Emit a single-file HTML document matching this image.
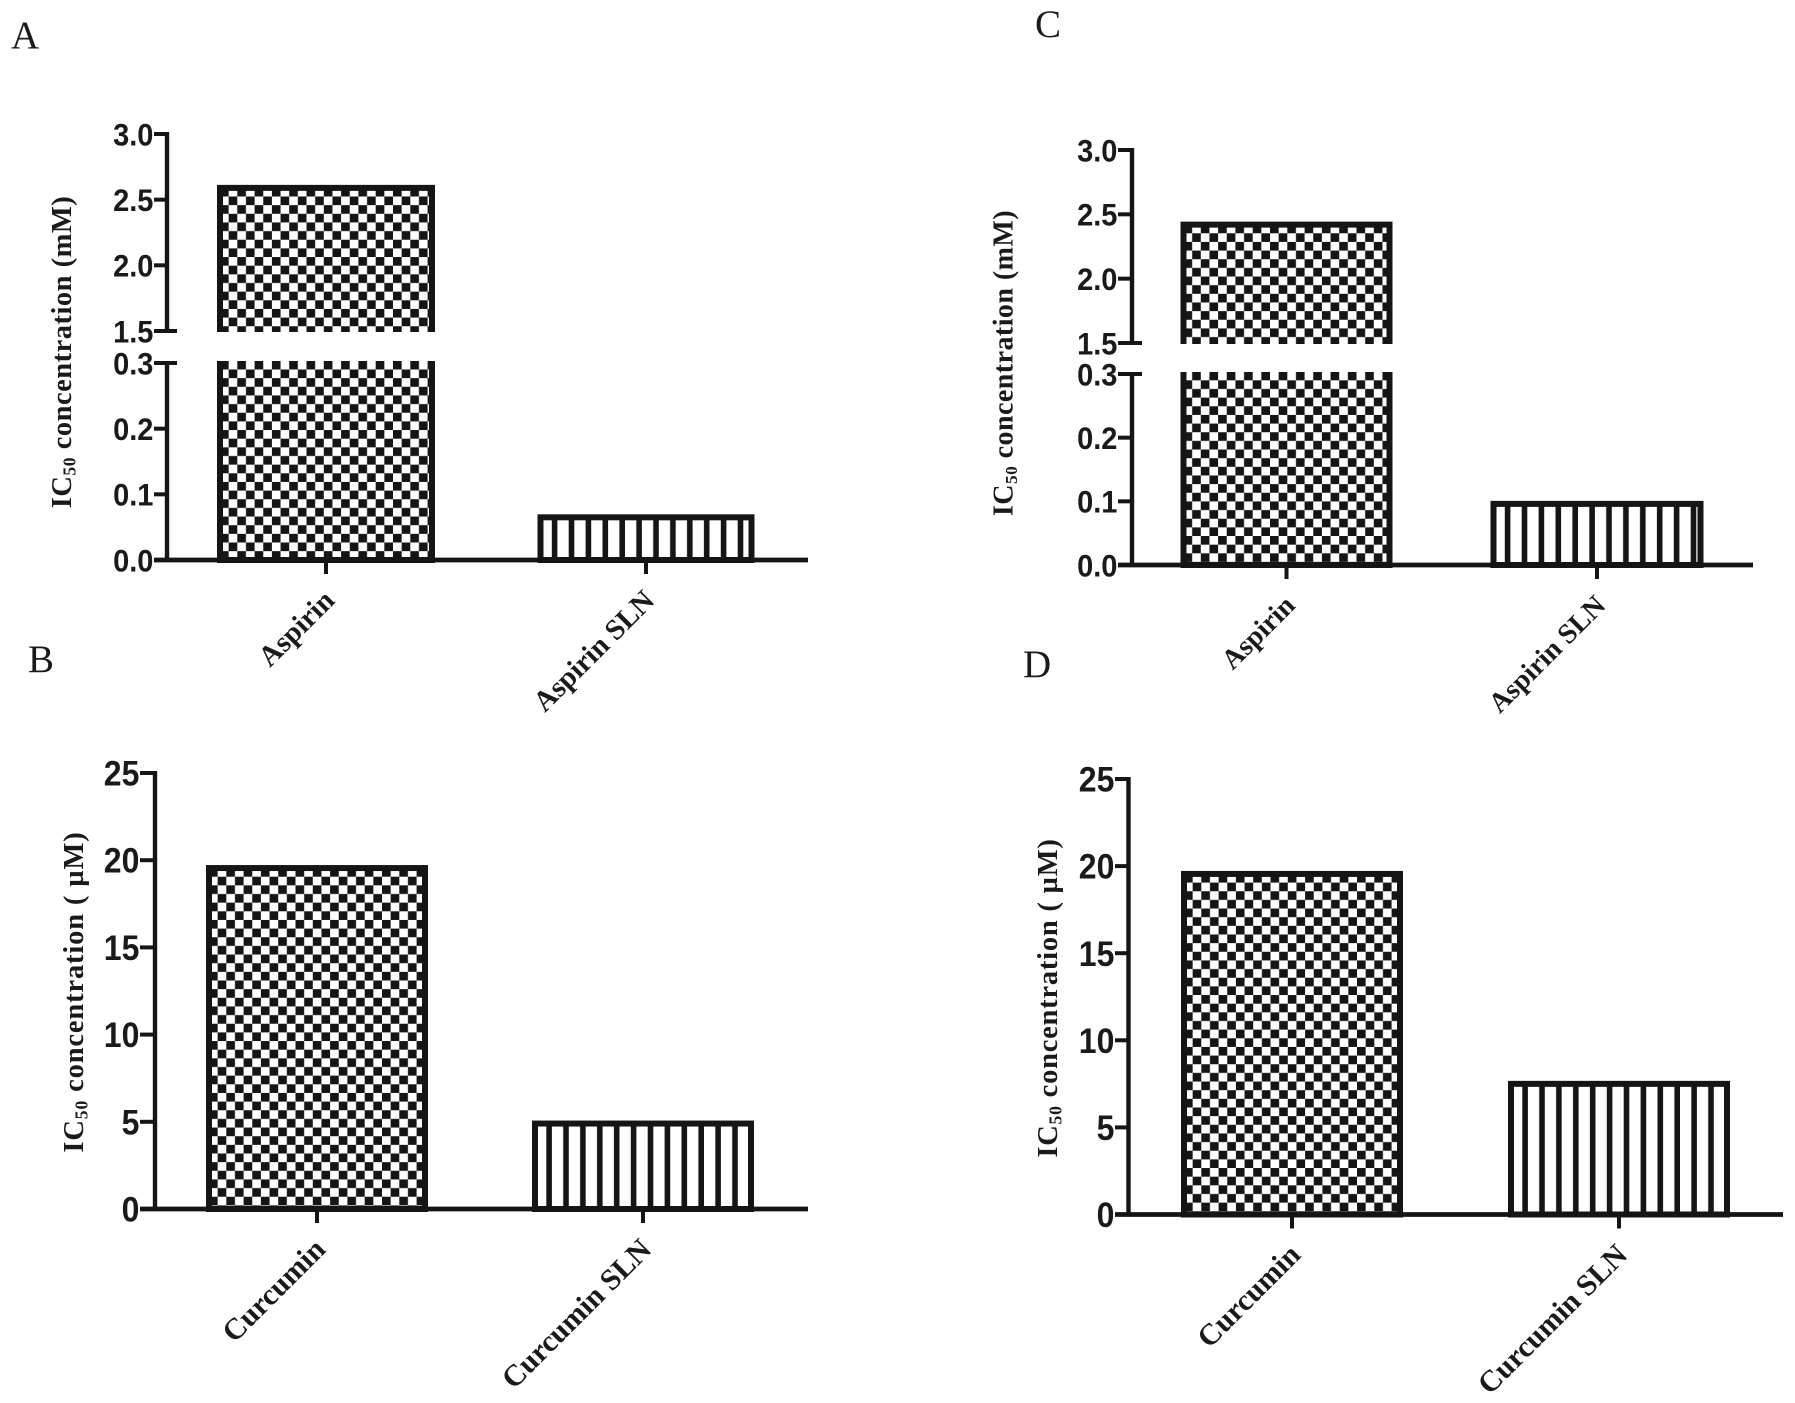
<!DOCTYPE html>
<html lang="en">
<head>
<meta charset="utf-8">
<title>IC50 concentration bar charts</title>
<style>
html,body{margin:0;padding:0;background:#fff;width:1795px;height:1403px;overflow:hidden}
svg{display:block}
.tick{font-family:"Liberation Sans",sans-serif;font-weight:bold;fill:#1a1a1a}
.serif{font-family:"Liberation Serif",serif;fill:#1a1a1a}
.title,.cat{font-weight:bold}
</style>
</head>
<body>
<svg id="figure" width="1795" height="1403" viewBox="0 0 1795 1403" xmlns="http://www.w3.org/2000/svg">
<defs id="defs"></defs>
<rect width="1795" height="1403" fill="#fff"/>
</svg>
<script>
// ---- Data ----
const categoriesA = ['Aspirin', 'Aspirin SLN'];
const valuesA = [2.59, 0.065];
const lowTicksA = [0, 0.1, 0.2, 0.3];
const highTicksA = [1.5, 2.0, 2.5, 3.0];
const lowTickLabelsA = ['0.0', '0.1', '0.2', '0.3'];
const highTickLabelsA = ['1.5', '2.0', '2.5', '3.0'];

const categoriesC = ['Aspirin', 'Aspirin SLN'];
const valuesC = [2.42, 0.096];
const lowTicksC = [0, 0.1, 0.2, 0.3];
const highTicksC = [1.5, 2.0, 2.5, 3.0];
const lowTickLabelsC = ['0.0', '0.1', '0.2', '0.3'];
const highTickLabelsC = ['1.5', '2.0', '2.5', '3.0'];

const categoriesB = ['Curcumin', 'Curcumin SLN'];
const valuesB = [19.55, 4.9];
const ticksB = [0, 5, 10, 15, 20, 25];
const tickLabelsB = ['0', '5', '10', '15', '20', '25'];

const categoriesD = ['Curcumin', 'Curcumin SLN'];
const valuesD = [19.55, 7.5];
const ticksD = [0, 5, 10, 15, 20, 25];
const tickLabelsD = ['0', '5', '10', '15', '20', '25'];

// ---- Panel layout (geometry only) ----
const panels = [
  {id:'a', letter:'A', lx:11, ly:48,
   categories:categoriesA, values:valuesA,
   segments:[{d0:0,d1:0.3,r0:560,r1:363,ticks:lowTicksA,labels:lowTickLabelsA},
             {d0:1.5,d1:3,r0:331,r1:134,ticks:highTicksA,labels:highTickLabelsA}],
   axisX:167, tickLeft:154, axisEnd:808, centers:[326,646], barWidths:[218,217],
   tickFont:29, catFont:29, titleFont:28.5, titleSpacing:0.5, titleX:71, titleY:352, unit:'(mM)'},
  {id:'c', letter:'C', lx:1035, ly:37,
   categories:categoriesC, values:valuesC,
   segments:[{d0:0,d1:0.3,r0:565,r1:374,ticks:lowTicksC,labels:lowTickLabelsC},
             {d0:1.5,d1:3,r0:343,r1:150,ticks:highTicksC,labels:highTickLabelsC}],
   axisX:1132, tickLeft:1118, axisEnd:1753, centers:[1286.5,1597], barWidths:[212,213],
   tickFont:29, catFont:28, titleFont:28, titleSpacing:0.45, titleX:1012.5, titleY:363, unit:'(mM)'},
  {id:'b', letter:'B', lx:28, ly:672,
   categories:categoriesB, values:valuesB,
   segments:[{d0:0,d1:25,r0:1209,r1:773,ticks:ticksB,labels:tickLabelsB}],
   axisX:155, tickLeft:140, axisEnd:808, centers:[317,643], barWidths:[222,222],
   tickFont:32, catFont:30, titleFont:28.5, titleSpacing:0.85, titleX:83, titleY:992, unit:'( \u00B5M)'},
  {id:'d', letter:'D', lx:1023, ly:677,
   categories:categoriesD, values:valuesD,
   segments:[{d0:0,d1:25,r0:1214.5,r1:779,ticks:ticksD,labels:tickLabelsD}],
   axisX:1128.5, tickLeft:1115, axisEnd:1783, centers:[1292,1619], barWidths:[222,222],
   tickFont:32, catFont:30, titleFont:28.5, titleSpacing:0.77, titleX:1057, titleY:998, unit:'( \u00B5M)'}
];

const INK = '#151515';
const SVGNS = 'http://www.w3.org/2000/svg';
const svg = document.getElementById('figure');
const defs = document.getElementById('defs');

function make(tag, attrs, parent) {
  const el = document.createElementNS(SVGNS, tag);
  for (const k in attrs) el.setAttribute(k, attrs[k]);
  if (parent) parent.appendChild(el);
  return el;
}

function yScale(panel, v) {
  const segs = panel.segments;
  let seg = segs[0];
  for (const s of segs) { if (v >= s.d0) seg = s; }
  return seg.r0 + (v - seg.d0) / (seg.d1 - seg.d0) * (seg.r1 - seg.r0);
}

function line(parent, x1, y1, x2, y2, w) {
  return make('line', {x1, y1, x2, y2, stroke: INK, 'stroke-width': w, 'stroke-linecap': 'butt'}, parent);
}

function addChecker(id, x, y) {
  const cell = 8.65;
  const p = make('pattern', {id, patternUnits:'userSpaceOnUse', x, y, width:cell*2, height:cell*2}, defs);
  make('rect', {width:cell*2, height:cell*2, fill:'#fff'}, p);
  make('rect', {width:cell, height:cell, fill:INK}, p);
  make('rect', {x:cell, y:cell, width:cell, height:cell, fill:INK}, p);
}

function addStripes(id, x, y) {
  const period = 16.9, dark = 5.6;
  const p = make('pattern', {id, patternUnits:'userSpaceOnUse', x, y, width:period, height:20}, defs);
  make('rect', {width:period, height:20, fill:'#fff'}, p);
  make('rect', {x:period - dark, width:dark, height:20, fill:INK}, p);
}

function drawBar(panel, g, i) {
  const sw = 6;
  const v = panel.values[i];
  const cx = panel.centers[i];
  const w = panel.barWidths[i];
  const left = cx - w / 2 + sw / 2;
  const right = cx + w / 2 - sw / 2;
  const base = yScale(panel, 0);
  const top = yScale(panel, v);
  const pid = 'fill-' + panel.id + '-' + i;
  if (i === 0) addChecker(pid, left, top); else addStripes(pid, left, top);
  const bar = make('g', {}, g);
  
  
  const broken = panel.segments.length > 1 && v > panel.segments[0].d1;
  if (broken) {
    const lowTop = panel.segments[0].r1 - 2;
    const highBottom = panel.segments[1].r0 + 1;
    make('rect', {x:left, y:lowTop, width:right-left, height:base-lowTop, fill:'url(#'+pid+')'}, bar);
    make('rect', {x:left, y:top, width:right-left, height:highBottom-top, fill:'url(#'+pid+')'}, bar);
    make('path', {d:`M${left} ${lowTop}V${base}H${right}V${lowTop}`, fill:'none', stroke:INK, 'stroke-width':sw}, bar);
    make('path', {d:`M${left} ${highBottom}V${top}H${right}V${highBottom}`, fill:'none', stroke:INK, 'stroke-width':sw}, bar);
  } else {
    make('rect', {x:left, y:top, width:right-left, height:base-top, fill:'url(#'+pid+')', stroke:INK, 'stroke-width':sw}, bar);
  }
}

function drawPanel(panel) {
  const g = make('g', {}, svg);
  
  

  const letter = make('text', {x:panel.lx, y:panel.ly, class:'serif', 'font-size':39}, g);
  
  
  letter.textContent = panel.letter;

  panel.categories.forEach((c, i) => drawBar(panel, g, i));

  const base = yScale(panel, 0);
  const breakable = panel.segments.length > 1;

  const axisGroup = make('g', {}, g);
  
  
  panel.segments.forEach(seg => {
    line(axisGroup, panel.axisX, seg.r0 + (seg.d0 === 0 ? 2 : 0), panel.axisX, seg.r1 - 2, 4.4);
    seg.ticks.forEach((t, k) => {
      const y = yScale(panel, t);
      const atBreak = breakable && (t === panel.segments[0].d1 || t === panel.segments[1].d0);
      line(axisGroup, panel.tickLeft, y, atBreak ? panel.axisX + 10 : panel.axisX, y, 4);
      const ax = panel.tickLeft - 0.6;
      const label = make('text', {x:ax, y:y, dy:'0.36em', 'text-anchor':'end', class:'tick', 'font-size':panel.tickFont, transform:`translate(0 ${y}) scale(1 1.09) translate(0 ${-y})`}, axisGroup);
      
      
      label.textContent = seg.labels[k];
    });
  });

  const xAxis = line(g, panel.tickLeft, base, panel.axisEnd, base, 4.8);
  
  

  panel.categories.forEach((c, i) => {
    const cx = panel.centers[i];
    const tick = line(g, cx, base, cx, base + 14, 4);
    
    
    const ax = cx + 10, ay = base + 42;
    const label = make('text', {x:ax, y:ay, 'text-anchor':'end', class:'serif cat', 'font-size':panel.catFont, transform:`rotate(-45 ${ax} ${ay})`}, g);
    
    
    label.textContent = c;
  });

  const title = make('text', {x:panel.titleX, y:panel.titleY, 'text-anchor':'middle', class:'serif title', 'font-size':panel.titleFont, 'letter-spacing':panel.titleSpacing, transform:`rotate(-90 ${panel.titleX} ${panel.titleY})`}, g);
  
  
  const t1 = make('tspan', {}, title);
  t1.textContent = 'IC';
  const t2 = make('tspan', {dy:'0.25em', 'font-size':panel.titleFont * 0.62}, title);
  t2.textContent = '50';
  const t3 = make('tspan', {dy:'-0.155em'}, title);
  t3.textContent = ' concentration ' + panel.unit;
}

panels.forEach(drawPanel);
</script>
</body>
</html>
